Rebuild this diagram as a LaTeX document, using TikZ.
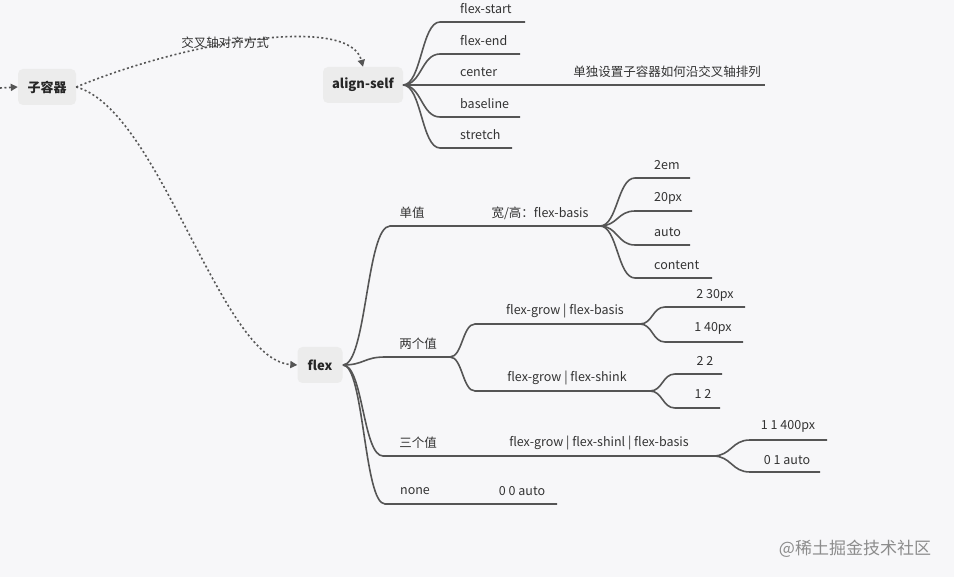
\documentclass[tikz,border=0pt]{standalone}
\usepackage{fontspec}
\setmainfont{Noto Sans CJK SC}
\usetikzlibrary{arrows.meta}
\definecolor{bg}{HTML}{F7F7F9}
\definecolor{ln}{HTML}{555555}
\definecolor{nb}{HTML}{ECECEC}
\newcommand{\br}[5]{% x0 y0 x1 y1 x2
 \draw[branch] (#1,#2) .. controls ({#1+0.5*(#3-#1)},#2) and ({#1+0.5*(#3-#1)},#4) .. (#3,#4) -- (#5,#4);}
\begin{document}
\begin{tikzpicture}[x=1pt,y=-1pt,
 branch/.style={draw=ln,line width=1.6pt},
 box/.style={fill=nb,rounded corners=5pt,minimum height=36pt,inner sep=8pt,font=\fontsize{13}{15}\selectfont\bfseries,text=black!85},
 lbl/.style={font=\fontsize{12.5}{15}\selectfont,text=black!80,inner sep=0pt},
 dot/.style={draw=ln,line width=1.6pt,dash pattern=on 2pt off 2.5pt,-{Triangle[length=7pt,width=7pt]}}]
\fill[bg] (0,0) rectangle (954,577);
\useasboundingbox (0,0) rectangle (954,577);
\node[box,minimum width=58pt] (sub) at (47,87) {子容器};
\node[box,minimum width=80pt] (as) at (363,85) {align-self};
\node[box,minimum width=45pt] (fx) at (320,365) {flex};
\coordinate (in) at (0,88);
\draw[dot] (in) -- (sub.west);
\draw[dot] (sub.east) .. controls (190,40) and (350,15) .. (as.north);
\node[lbl] at (225,43) {交叉轴对齐方式};
\draw[dot] (sub.east) .. controls (160,110) and (220,360) .. (fx.west);
% align-self
\foreach \y/\e/\t in {22/525/flex-start,54/520/flex-end,85/765/center,117/520/baseline,148/512/stretch}{
 \br{403}{85}{440}{\y}{\e}
 \node[lbl,anchor=west] at (460,\y-13) {\t};}
\node[lbl] at (667,72) {单独设置子容器如何沿交叉轴排列};
% flex
\br{343}{365}{390}{226}{600}
\node[lbl] at (412,213) {单值};
\node[lbl] at (540,213) {宽/高：flex-basis};
\foreach \y/\e/\t in {178/690/2em,211/692/20px,245/690/auto,278/712/content}{
 \br{600}{226}{635}{\y}{\e}
 \node[lbl,anchor=west] at (654,\y-13) {\t};}
\br{343}{365}{385}{357}{450}
\node[lbl] at (418,344) {两个值};
\br{450}{357}{475}{324}{640}
\node[lbl] at (565,311) {flex-grow | flex-basis};
\br{640}{324}{665}{307}{745}
\node[lbl] at (715,295) {2 30px};
\br{640}{324}{665}{342}{743}
\node[lbl] at (713,328) {1 40px};
\br{450}{357}{475}{391}{650}
\node[lbl] at (567,378) {flex-grow | flex-shink};
\br{650}{391}{675}{374}{722}
\node[lbl] at (705,361) {2 2};
\br{650}{391}{675}{408}{720}
\node[lbl] at (703,394) {1 2};
\br{343}{365}{383}{456}{713}
\node[lbl] at (418,443) {三个值};
\node[lbl] at (599,443) {flex-grow | flex-shinl | flex-basis};
\br{713}{456}{750}{440}{827}
\node[lbl] at (788,426) {1 1 400px};
\br{713}{456}{750}{472}{820}
\node[lbl] at (787,460) {0 1 auto};
\br{343}{365}{385}{504}{557}
\node[lbl] at (415,491) {none};
\node[lbl] at (522,491) {0 0 auto};
\node[lbl,text=black!45,font=\fontsize{17}{19}\selectfont] at (855,549) {@稀土掘金技术社区};
\end{tikzpicture}
\end{document}
